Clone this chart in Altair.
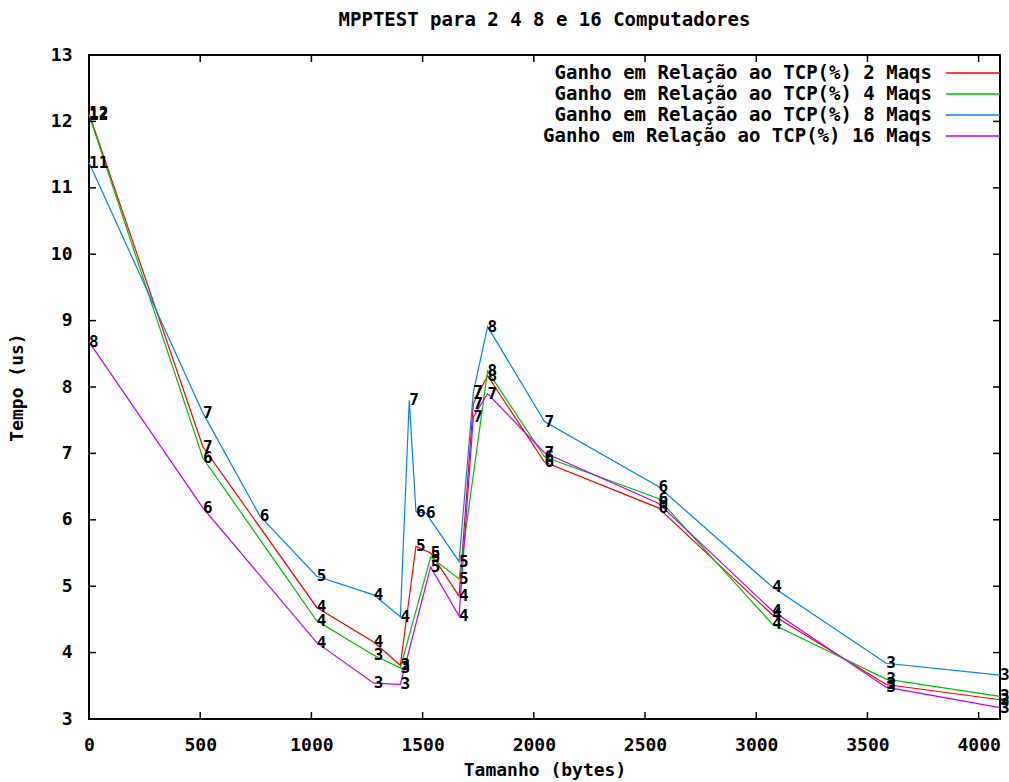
import altair as alt
import pandas as pd

# ---------------- data ----------------
series_names = [
    "Ganho em Relação ao TCP(%) 2 Maqs",
    "Ganho em Relação ao TCP(%) 4 Maqs",
    "Ganho em Relação ao TCP(%) 8 Maqs",
    "Ganho em Relação ao TCP(%) 16 Maqs",
]
series_colors = ["#ff0000", "#00c000", "#0080ff", "#c000ff"]

x_2 = [0, 512, 1024, 1280, 1400, 1470, 1536, 1664, 1728, 1792, 2048, 2560, 3072, 3584, 4096]
y_2 = [12.12, 7.10, 4.68, 4.16, 3.81, 5.60, 5.50, 4.85, 7.75, 8.17, 6.87, 6.18, 4.57, 3.52, 3.29]

x_4 = [0, 512, 1024, 1280, 1400, 1536, 1664, 1792, 2048, 2560, 3072, 3584, 4096]
y_4 = [12.10, 6.93, 4.48, 3.96, 3.77, 5.44, 5.11, 8.24, 6.95, 6.32, 4.43, 3.60, 3.34]

x_8 = [0, 512, 768, 1024, 1280, 1400, 1440, 1470, 1515, 1664, 1728, 1792, 2048, 2560, 3072, 3584, 4096]
y_8 = [11.38, 7.61, 6.06, 5.15, 4.87, 4.54, 7.80, 6.12, 6.10, 5.37, 7.92, 8.91, 7.48, 6.50, 4.99, 3.84, 3.66]

x_16 = [0, 512, 1024, 1280, 1400, 1536, 1664, 1728, 1792, 2048, 2560, 3072, 3584, 4096]
y_16 = [8.68, 6.18, 4.15, 3.54, 3.52, 5.29, 4.55, 7.55, 7.90, 7.01, 6.25, 4.63, 3.48, 3.17]

x_ticks = [0, 500, 1000, 1500, 2000, 2500, 3000, 3500, 4000]
y_ticks = [3, 4, 5, 6, 7, 8, 9, 10, 11, 12, 13]

title_text = "MPPTEST para 2 4 8 e 16 Computadores"
x_title = "Tamanho (bytes)"
y_title = "Tempo (us)"

# ---------------- build ----------------
all_x = [x_2, x_4, x_8, x_16]
all_y = [y_2, y_4, y_8, y_16]
rows = []
for k, (name, xs, ys) in enumerate(zip(series_names, all_x, all_y)):
    for i, (xv, yv) in enumerate(zip(xs, ys)):
        rows.append({"serie": name, "k": k, "x": xv, "y": yv, "ordem": i})
df = pd.DataFrame(rows)

W, H = 911, 664
FONT = "DejaVu Sans Mono"
xscale = alt.Scale(domain=[0, 4096], nice=False, zero=False)
yscale = alt.Scale(domain=[3, 13], nice=False, zero=False)
color = alt.Color("serie:N", scale=alt.Scale(domain=series_names, range=series_colors), legend=None)

xaxis = alt.Axis(values=x_ticks, format="d", ticks=False, domain=False, grid=False, labelFont=FONT,
                 labelFontSize=18, labelFontWeight="bold", labelColor="black", labelPadding=17,
                 title=x_title, titleFont=FONT, titleFontSize=18, titleFontWeight="bold",
                 titleColor="black", titlePadding=7, labelFlush=False)
yaxis = alt.Axis(values=y_ticks, format="d", ticks=False, domain=False, grid=False, labelFont=FONT,
                 labelFontSize=18, labelFontWeight="bold", labelColor="black", labelPadding=17,
                 title=y_title, titleFont=FONT, titleFontSize=18, titleFontWeight="bold",
                 titleColor="black", titlePadding=24)


def X(field):
    return alt.X(field, scale=xscale, axis=xaxis)


def Y(field):
    return alt.Y(field, scale=yscale, axis=yaxis)


layers = []
for k, name in enumerate(series_names):
    sub = alt.Chart(df).transform_filter(alt.datum.k == k)
    layers.append(sub.mark_line(strokeWidth=1.2).encode(
        x=X("x:Q"), y=Y("y:Q"), color=color, order="ordem:Q"))

for k, name in enumerate(series_names):
    sub = alt.Chart(df).transform_filter(alt.datum.k == k).transform_calculate(lbl="floor(datum.y)")
    layers.append(sub.mark_text(align="left", baseline="middle", font=FONT, fontSize=16,
                                fontWeight="bold", color="black").encode(
        x=X("x:Q"), y=Y("y:Q"), text="lbl:N"))

TL = 7
xt = alt.Chart(pd.DataFrame({"t": x_ticks}))
yt = alt.Chart(pd.DataFrame({"t": y_ticks}))
layers.append(xt.mark_rule(color="black", strokeWidth=1.5).encode(
    x=X("t:Q"), y=alt.value(H), y2=alt.value(H - TL)))
layers.append(xt.mark_rule(color="black", strokeWidth=1.5).encode(
    x=X("t:Q"), y=alt.value(0), y2=alt.value(TL)))
layers.append(yt.mark_rule(color="black", strokeWidth=1.5).encode(
    y=Y("t:Q"), x=alt.value(0), x2=alt.value(TL)))
layers.append(yt.mark_rule(color="black", strokeWidth=1.5).encode(
    y=Y("t:Q"), x=alt.value(W), x2=alt.value(W - TL)))

# manual legend
leg = pd.DataFrame({"serie": series_names, "r": list(range(len(series_names)))})
legbase = alt.Chart(leg).transform_calculate(ypix="18 + 21*datum.r")
layers.append(legbase.mark_text(align="right", baseline="middle", font=FONT, fontSize=19,
                                fontWeight="bold", color="black").encode(
    x=alt.value(843), y=alt.Y("ypix:Q", scale=None, axis=None), text="serie:N"))
layers.append(legbase.mark_rule(strokeWidth=1.5).encode(
    x=alt.value(857), x2=alt.value(911), y=alt.Y("ypix:Q", scale=None, axis=None), color=color))

chart = alt.layer(*layers).properties(
    width=W, height=H,
    title=alt.TitleParams(title_text, font=FONT, fontSize=19, fontWeight="bold", color="black",
                          anchor="middle", offset=16),
    autosize=alt.AutoSizeParams(type="none"),
    padding={"left": 89, "top": 55, "right": 1009 - 89 - W, "bottom": 782 - 55 - H},
    background="white",
).configure_view(stroke="black", strokeWidth=2)

chart.save("out.html", embed_options={"renderer": "svg", "actions": False})
